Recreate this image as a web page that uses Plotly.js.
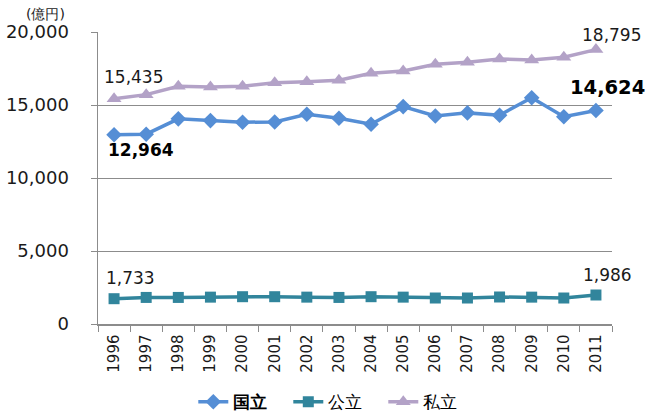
<!DOCTYPE html>
<html><head><meta charset="utf-8">
<script src="https://cdn.plot.ly/plotly-3.0.1.min.js"></script>
<style>html,body{margin:0;padding:0;background:#fff}#c{width:647px;height:415px}</style>
</head><body><div id="c"></div>
<script>
const years = ['1996','1997','1998','1999','2000','2001','2002','2003','2004','2005','2006','2007','2008','2009','2010','2011'];
const kokuritsu = [12964,13000,14050,13930,13820,13840,14370,14095,13685,14890,14250,14460,14300,15500,14200,14624];
const kouritsu = [1733,1820,1820,1840,1870,1870,1840,1820,1870,1840,1780,1780,1850,1840,1780,1986];
const shiritsu = [15435,15710,16285,16240,16285,16530,16600,16690,17170,17330,17790,17925,18150,18085,18270,18795];
const seriesNames = ['<b>国立</b>','公立','私立'];
const yTicks = [0,5000,10000,15000,20000];
const yTickText = ['0','5,000','10,000','15,000','20,000'];
const unitLabel = '(億円)';

const fmt = v => v.toLocaleString('en-US');
const F = 'DejaVu Sans, Verdana, sans-serif';
const last = years.length - 1;

const traces = [
 {x:years,y:kokuritsu,name:seriesNames[0],type:'scatter',mode:'lines+markers',
  line:{color:'#558ED5',width:3.5},marker:{symbol:'diamond',size:12,color:'#558ED5'}},
 {x:years,y:kouritsu,name:seriesNames[1],type:'scatter',mode:'lines+markers',
  line:{color:'#31859C',width:3.5},marker:{symbol:'square',size:11,color:'#31859C'}},
 {x:years,y:shiritsu,name:seriesNames[2],type:'scatter',mode:'lines+markers',
  line:{color:'#B3A2C7',width:3.5},marker:{symbol:'triangle-up',size:13,color:'#B3A2C7'}}
];

function lab(i,y,txt,opts){
  return Object.assign({x:i,y:y,xref:'x',yref:'y',text:txt,showarrow:false,
    font:{family:F,size:17,color:'#1a1a1a'}},opts);
}
const annotations = [
 lab(0,shiritsu[0],fmt(shiritsu[0]),{xanchor:'left',yanchor:'bottom',xshift:-12,yshift:10}),
 lab(last,shiritsu[last],fmt(shiritsu[last]),{xanchor:'center',yanchor:'bottom',xshift:16,yshift:3}),
 lab(0,kokuritsu[0],'<b>'+fmt(kokuritsu[0])+'</b>',{xanchor:'left',yanchor:'top',xshift:-8,yshift:-3,font:{family:F,size:17,color:'#000'}}),
 lab(last,kokuritsu[last],'<b>'+fmt(kokuritsu[last])+'</b>',{xanchor:'center',yanchor:'bottom',xshift:12,yshift:9,font:{family:F,size:19.5,color:'#000'}}),
 lab(0,kouritsu[0],fmt(kouritsu[0]),{xanchor:'center',yanchor:'bottom',xshift:16,yshift:9}),
 lab(last,kouritsu[last],fmt(kouritsu[last]),{xanchor:'center',yanchor:'bottom',xshift:12,yshift:8}),
 {text:unitLabel,xref:'paper',yref:'paper',x:-0.103,y:1.0,xanchor:'center',yanchor:'bottom',yshift:8,
  showarrow:false,font:{family:F,size:14,color:'#1a1a1a'}}
];

const layout = {
 width:647,height:415,margin:{l:98,r:35,t:32,b:91,autoexpand:false},
 paper_bgcolor:'#fff',plot_bgcolor:'#fff',
 font:{family:F,color:'#1a1a1a'},
 showlegend:true,
 legend:{orientation:'h',x:0.519,xanchor:'center',xref:'container',y:0.031,yref:'container',yanchor:'middle',
  font:{family:F,size:17,color:'#000'},traceorder:'normal',entrywidth:50,entrywidthmode:'pixels'},
 xaxis:{type:'category',showgrid:false,showline:true,linecolor:'#8c8c8c',linewidth:1.5,
  ticks:'outside',tickson:'boundaries',ticklen:6,tickcolor:'#8c8c8c',tickangle:-90,
  tickfont:{family:F,size:15,color:'#1a1a1a'},range:[-0.5,15.5],ticklabelstandoff:3},
 yaxis:{range:[0,20000],tickvals:yTicks,ticktext:yTickText,showgrid:true,gridcolor:'#8c8c8c',gridwidth:1,
  showline:true,linecolor:'#8c8c8c',linewidth:1.5,ticks:'outside',ticklen:6,tickcolor:'#8c8c8c',
  tickfont:{family:F,size:18,color:'#1a1a1a'},zeroline:false,ticklabelstandoff:18},
 annotations:annotations
};
Plotly.newPlot('c',traces,layout,{displayModeBar:false,staticPlot:true});
</script></body></html>
